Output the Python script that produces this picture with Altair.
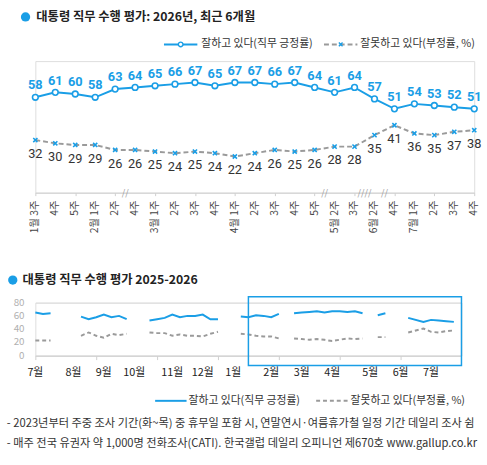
import altair as alt
import pandas as pd

FONT = "Noto Sans CJK KR"
NUM_FONT = "Roboto"
BLUE = "#1a9ee6"
GRAY = "#9a9a9a"

# ---- recent six months (weekly) ----
week_labels = ["1월 3주", "4주", "5주", "2월 1주", "2주", "4주", "3월 1주", "2주", "3주", "4주",
               "4월 1주", "2주", "3주", "4주", "5주", "5월 2주", "3주", "6월 2주", "4주",
               "7월 1주", "2주", "3주", "4주"]
approve = [58, 61, 60, 58, 63, 64, 65, 66, 67, 65, 67, 67, 66, 67, 64, 61, 64, 57, 51, 54, 53, 52, 51]
disapprove = [32, 30, 29, 29, 26, 26, 25, 24, 25, 24, 22, 24, 26, 25, 26, 28, 28, 35, 41, 36, 35, 37, 38]
# skipped survey weeks are marked on the axis after these positions
break_after = [4, 14, 16, 17]
break_marks = ["//", "//", "////", "//"]

# ---- 2025-2026 overview, week index counted from 2025-07 1st week ----
ov_week = [0, 1, 2, 3, 4, 5, 6, 7, 8, 9, 10, 11, 12, 13, 14, 15, 16, 17, 18, 19, 20, 21, 22, 23,
           24, 25, 26, 27, 28, 29, 30, 31, 32, 33, 34, 35, 36, 37, 38, 39, 40, 41, 42, 43, 44,
           45, 46, 47, 48, 49, 51, 52, 53, 54, 55]
ov_approve = [65, 63, 64, None, None, None, 59, 55, 58, 62, 58, 60, 55, None, None, 53, 55, 57,
              62, 58, 60, 60, 62, 55, 55, None, None, 59, 58, 61, 60, 58, 63, None, 64, 65, 66,
              67, 65, 67, 67, 66, 67, 64, None, 61, 64, None, None, 57, 51, 54, 53, 52, 51]
ov_disapprove = [23, 23, 23, None, None, None, 30, 35, 30, 27, 33, 31, 33, None, None, 35, 34, 34,
                 30, 32, 30, 30, 29, 33, 36, None, None, 33, 32, 30, 29, 29, 26, None, 26, 25, 24,
                 25, 24, 22, 24, 26, 25, 26, None, 28, 28, None, None, 35, 41, 36, 35, 37, 38]
month_names = ["7월", "8월", "9월", "10월", "11월", "12월", "1월", "2월", "3월", "4월", "5월", "6월", "7월"]
month_weeks = [0, 5, 9, 13, 18, 22, 26, 31, 35, 39, 44, 48, 52]
y_ticks = [0, 20, 40, 60, 80]
week_count = 56
highlight_start = 28

title_top = "대통령 직무 수행 평가: 2026년, 최근 6개월"
title_bottom = "대통령 직무 수행 평가 2025-2026"
legend_pos = "잘하고 있다(직무 긍정률)"
legend_neg = "잘못하고 있다(부정률, %)"
footnotes = [
    "- 2023년부터 주중 조사 기간(화~목) 중 휴무일 포함 시, 연말연시·여름휴가철 일정 기간 데일리 조사 쉼",
    "- 매주 전국 유권자 약 1,000명 전화조사(CATI). 한국갤럽 데일리 오피니언 제670호 www.gallup.co.kr",
]

one = pd.DataFrame({"k": [0]})


def label_at(text, x, y, size=11, color="#333333", weight="normal"):
    return alt.Chart(one).mark_text(align="left", baseline="middle", font=FONT, fontSize=size,
                                    fontWeight=weight, color=color).encode(
        x=alt.value(x), y=alt.value(y), text=alt.value(text))


# ================= top panel =================
W1, H1 = 447, 134
n = len(week_labels)
top_df = pd.DataFrame({"i": list(range(n)), "label": week_labels,
                       "approve": approve, "disapprove": disapprove})

xs1 = alt.Scale(domain=[0, n - 1], nice=False, zero=False)
x1 = alt.X("i:Q", scale=xs1,
           axis=alt.Axis(values=list(range(n)), labels=False, grid=False,
                         domainColor="#cfcfcf", tickColor="#cfcfcf", tickSize=3, title=None))
y1 = alt.Scale(domain=[0, 80], nice=False)

base1 = alt.Chart(top_df)
pos_line = base1.mark_line(color=BLUE, strokeWidth=2).encode(
    x=x1, y=alt.Y("approve:Q", scale=y1, axis=None))
neg_line = base1.mark_line(color=GRAY, strokeWidth=2, strokeDash=[5, 3]).encode(
    x="i:Q", y=alt.Y("disapprove:Q", scale=y1))
pos_pts = base1.mark_point(shape="circle", filled=True, fill="white", stroke=BLUE,
                           strokeWidth=1.6, size=34, opacity=1).encode(
    x="i:Q", y=alt.Y("approve:Q", scale=y1))
neg_pts = base1.mark_point(shape="M-1,-1L1,1M-1,1L1,-1", filled=False, stroke=BLUE,
                           strokeWidth=1.6, size=18, opacity=1).encode(
    x="i:Q", y=alt.Y("disapprove:Q", scale=y1))
pos_txt = base1.mark_text(color=BLUE, font=NUM_FONT, fontSize=13, fontWeight="bold",
                          dy=-12, baseline="middle").encode(
    x="i:Q", y=alt.Y("approve:Q", scale=y1), text="approve:Q")
neg_txt = base1.mark_text(color="#333333", font=NUM_FONT, fontSize=13,
                          dy=14, baseline="middle").encode(
    x="i:Q", y=alt.Y("disapprove:Q", scale=y1), text="disapprove:Q")
# week labels, rotated to read upward and ending just under the axis
wk_txt = base1.mark_text(font=FONT, fontSize=10.5, color="#444444", angle=270,
                         align="right", baseline="middle").encode(
    x="i:Q", y=alt.value(H1 + 8), text="label:N")

brk_df = pd.DataFrame({"pos": [b + 0.5 for b in break_after], "mark": break_marks, "v": 0})
brk = alt.Chart(brk_df).mark_text(color="#9a9a9a", font=FONT, fontSize=9,
                                  baseline="middle").encode(
    x="pos:Q", y=alt.Y("v:Q", scale=y1), text="mark:N")

t1_dot = alt.Chart(one).mark_circle(color=BLUE, size=90, opacity=1).encode(
    x=alt.value(-10), y=alt.value(-45))
t1_txt = label_at(title_top, 1, -45, size=12.5, color="#222222", weight="bold")

lg1_pl = alt.Chart(one).mark_rule(color=BLUE, strokeWidth=2).encode(
    x=alt.value(131), x2=alt.value(165), y=alt.value(-17))
lg1_pp = alt.Chart(one).mark_point(shape="circle", filled=True, fill="white", stroke=BLUE,
                                   strokeWidth=1.4, size=22, opacity=1).encode(
    x=alt.value(148), y=alt.value(-17))
lg1_pt = label_at(legend_pos, 169, -17)
lg1_nl = alt.Chart(one).mark_rule(color=GRAY, strokeWidth=2, strokeDash=[5, 3]).encode(
    x=alt.value(294), x2=alt.value(328), y=alt.value(-17))
lg1_np = alt.Chart(one).mark_point(shape="M-1,-1L1,1M-1,1L1,-1", filled=False, stroke=BLUE,
                                   strokeWidth=1.4, size=14, opacity=1).encode(
    x=alt.value(311), y=alt.value(-17))
lg1_nt = label_at(legend_neg, 331, -17)

top = alt.layer(pos_line, neg_line, pos_pts, neg_pts, pos_txt, neg_txt, wk_txt, brk,
                t1_dot, t1_txt, lg1_pl, lg1_pp, lg1_pt, lg1_nl, lg1_np, lg1_nt
                ).properties(width=W1, height=H1)

# ================= bottom panel =================
W2, H2 = 434, 54
ov = pd.DataFrame({"week": ov_week, "approve": ov_approve, "disapprove": ov_disapprove})
ov["seg"] = ov["approve"].isna().cumsum()
ov = ov.dropna()
ov_long = ov.melt(id_vars=["week", "seg"], value_vars=["approve", "disapprove"],
                  var_name="series", value_name="value")

xs2 = alt.Scale(domain=[0, week_count], nice=False, zero=False)
ys2 = alt.Scale(domain=[0, 80], nice=False)
x2 = alt.X("week:Q", scale=xs2,
           axis=alt.Axis(values=list(range(week_count)), labels=False, grid=False,
                         domainColor="#cfcfcf", tickColor="#cfcfcf", tickSize=4, title=None))
y2 = alt.Y("value:Q", scale=ys2,
           axis=alt.Axis(values=y_ticks, domain=False, ticks=False, labels=False,
                         gridColor="#dddddd", title=None))

ov_pos = alt.Chart(ov_long).transform_filter("datum.series == 'approve'").mark_line(
    color=BLUE, strokeWidth=2).encode(x=x2, y=y2, detail="seg:N")
ov_neg = alt.Chart(ov_long).transform_filter("datum.series == 'disapprove'").mark_line(
    color=GRAY, strokeWidth=2, strokeDash=[4, 3]).encode(x="week:Q", y="value:Q", detail="seg:N")

month_df = pd.DataFrame({"week": month_weeks, "name": month_names})
months = alt.Chart(month_df).mark_text(font=FONT, fontSize=11, color="#222222",
                                       baseline="middle").encode(
    x=alt.X("week:Q", scale=xs2), y=alt.value(H2 + 18), text="name:N")

ytick_df = pd.DataFrame({"v": y_ticks})
ylabels = alt.Chart(ytick_df).mark_text(font=FONT, fontSize=10, color="#b0b0b0",
                                        align="right", baseline="middle").encode(
    x=alt.value(-11), y=alt.Y("v:Q", scale=ys2), text="v:Q")

hl = alt.Chart(pd.DataFrame({"s": [highlight_start], "e": [week_count]})).mark_rect(
    fillOpacity=0, stroke=BLUE, strokeWidth=1.5).encode(
    x=alt.X("s:Q", scale=xs2), x2="e:Q", y=alt.value(-6), y2=alt.value(H2 + 10))

t2_dot = alt.Chart(one).mark_circle(color=BLUE, size=90, opacity=1).encode(
    x=alt.value(-23), y=alt.value(-23))
t2_txt = label_at(title_bottom, -13, -23, size=12.5, color="#222222", weight="bold")

lg2_pl = alt.Chart(one).mark_rule(color=BLUE, strokeWidth=2).encode(
    x=alt.value(122), x2=alt.value(154), y=alt.value(100))
lg2_pt = label_at(legend_pos, 156, 100)
lg2_nl = alt.Chart(one).mark_rule(color=GRAY, strokeWidth=2, strokeDash=[4, 3]).encode(
    x=alt.value(286), x2=alt.value(319), y=alt.value(100))
lg2_nt = label_at(legend_neg, 321, 100)

fn_layers = [label_at(t, -29, H2 + 70 + 20 * k, size=11.4) for k, t in enumerate(footnotes)]

bottom = alt.layer(ov_pos, ov_neg, months, ylabels, hl, t2_dot, t2_txt, lg2_pl, lg2_pt,
                   lg2_nl, lg2_nt, *fn_layers).properties(width=W2, height=H2)

chart = alt.vconcat(top, bottom, spacing=40).configure_view(stroke=None).configure(
    padding={"left": 6, "top": 6, "right": 5, "bottom": 5}, background="white")

chart.save("out.html", embed_options={"renderer": "svg", "actions": False})
